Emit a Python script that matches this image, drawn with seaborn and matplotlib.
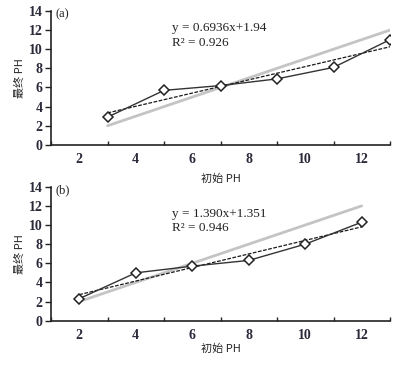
import numpy as np
import pandas as pd
import matplotlib
matplotlib.use('Agg')
import matplotlib.pyplot as plt
import seaborn as sb

# data
x_a = [3, 5, 7, 9, 11, 13]
y_a = [2.9, 5.7, 6.2, 6.9, 8.1, 11.0]
x_b = [2, 4, 6, 8, 10, 12]
y_b = [2.3, 5.0, 5.7, 6.3, 8.0, 10.3]
ref_y = [2, 4, 6, 8, 10, 12]  # grey 1:1 line
eq_a = ['y = 0.6936x+1.94', 'R² = 0.926']
eq_b = ['y = 1.390x+1.351', 'R² = 0.946']
panels = ['(a)', '(b)']
xticks = [2, 4, 6, 8, 10, 12]
yticks = [0, 2, 4, 6, 8, 10, 12, 14]

sb.set_style('ticks')
plt.rcParams['font.family'] = ['Noto Sans CJK SC', 'DejaVu Sans']

fig = plt.figure(figsize=(4, 3.65), dpi=100)
ax1 = fig.add_axes([0.1275, 0.603, 0.8475, 0.367])
ax2 = fig.add_axes([0.1275, 0.1214, 0.8475, 0.367])

tick_col = '#2a2a3a'
serif = 'Liberation Serif'

for ax, xs, ys, eq, lab, ty, lp in [(ax1, x_a, y_a, eq_a, panels[0], 12.2, 5),
                                    (ax2, x_b, y_b, eq_b, panels[1], 11.2, 1)]:
    df = pd.DataFrame({'x': xs, 'y': ys, 'ref': ref_y})
    # grey reference line
    ax.plot(df['x'], df['ref'], color='#c4c4c4', lw=2, zorder=1)
    # linear fit
    sb.regplot(data=df, x='x', y='y', ax=ax, ci=None, scatter=False,
               line_kws={'color': '#1a1a1a', 'lw': 0.9, 'ls': (0, (3, 1.2))})
    # measured points
    sb.lineplot(data=df, x='x', y='y', ax=ax, color='#333333', lw=1,
                marker='D', markersize=5.5, markerfacecolor='white',
                markeredgecolor='#222222', markeredgewidth=1.1, zorder=3)

    ax.set_xlim(1, 13)
    ax.set_ylim(0, 14)
    ax.set_yticks(yticks)
    ax.set_xticks(range(1, 14, 2))
    ax.set_xticklabels([])
    ax.set_xticks(xticks, minor=True)
    ax.set_xticklabels([str(t) for t in xticks], minor=True)
    ax.tick_params(axis='x', which='major', direction='in', length=3, width=1, color='#222222')
    ax.tick_params(axis='x', which='minor', length=0, pad=6, labelsize=10, labelcolor=tick_col)
    ax.tick_params(axis='y', direction='out', length=4, width=1, color='#222222',
                   labelsize=10, labelcolor=tick_col, pad=2)
    for t in ax.get_xticklabels(minor=True) + ax.get_yticklabels():
        t.set_family(serif)
        t.set_fontweight('bold')
    for s in ['left', 'bottom']:
        ax.spines[s].set_color('#222222')
        ax.spines[s].set_linewidth(1.2)
    sb.despine(ax=ax)

    ax.set_xlabel('初始 PH', fontsize=8, labelpad=lp)
    ax.set_ylabel('最终 PH', fontsize=8, labelpad=3)
    ax.text(1.15, 13.6, lab, family=serif, fontsize=9, va='center', color='#222222')
    ax.text(5.28, ty, eq[0], family=serif, fontsize=9.5, va='center', color='#222222')
    ax.text(5.28, ty - 1.5, eq[1], family=serif, fontsize=9.5, va='center', color='#222222')

fig.savefig('out.png', dpi=100)
